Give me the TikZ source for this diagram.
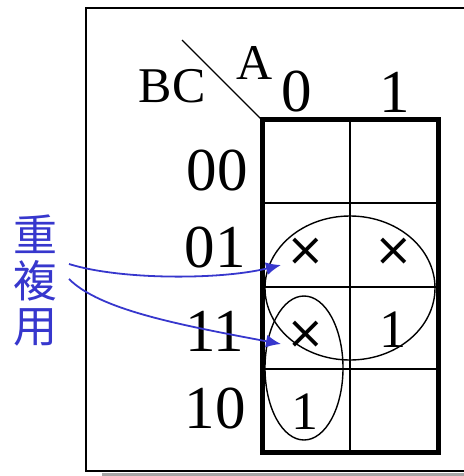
\documentclass[tikz,border=0pt]{standalone}
\usepackage{fontspec}
\setmainfont{Liberation Serif}
\newfontfamily\cjkfont{Noto Sans CJK TC}
\newfontfamily\symfont{DejaVu Sans}
\usetikzlibrary{arrows.meta}
\definecolor{noteblue}{RGB}{55,55,205}
\tikzset{
  big/.style={inner sep=0pt, font=\fontsize{61}{61}\selectfont},
  mid/.style={inner sep=0pt, font=\fontsize{50}{50}\selectfont},
  cell/.style={inner sep=0pt, font=\fontsize{54}{54}\selectfont},
  cross/.style={inner sep=0pt, font=\symfont\fontsize{46}{46}\selectfont},
  cjk/.style={inner sep=0pt, text=noteblue, font=\cjkfont\fontsize{44}{44}\selectfont},
  note/.style={noteblue, line width=1.8pt, -{Latex[length=15pt,width=13pt]}},
  grp/.style={line width=1.4pt},
  thin/.style={line width=2pt},
}
\begin{document}
\begin{tikzpicture}[x=1pt,y=-1pt]
\useasboundingbox (0,0) rectangle (463,476);
% outer frame and shadow
\draw[gray!70, line width=3pt] (102,474.5) -- (480,474.5);
\draw[line width=2pt] (480,8) -- (86,8) -- (86,471) -- (480,471);
% grid
\draw[thin] (350,120) -- (350,452);
\draw[thin] (262,203) -- (438,203);
\draw[thin] (262,287) -- (438,287);
\draw[thin] (262,369) -- (438,369);
\draw[line width=5pt] (262,120) rectangle (438,452);
% diagonal
\draw[line width=1.2pt] (182,40) -- (261,119);
% headers
\node[mid] (bc) at (172,86) {BC};
\node[mid] (a) at (255,63) {A};
\node[big] (c0) at (297,92) {0};
\node[big] (c1) at (395,92) {1};
\node[big] (r00) at (217,171) {00};
\node[big] (r01) at (215,248) {01};
\node[big] (r11) at (215,331) {11};
\node[big] (r10) at (215,409) {10};
% cells
\node[cross] (x1) at (306,252) {×};
\node[cross] (x2) at (394,252) {×};
\node[cross] (x3) at (306,335) {×};
\node[cell] (o1) at (393,330) {1};
\node[cell] (o2) at (305,412) {1};
% groups
\draw[grp] (350,288) ellipse [x radius=85pt, y radius=72pt];
\draw[grp] (304,368) ellipse [x radius=39pt, y radius=72pt];
% note
\node[cjk] (n1) at (35,234) {重};
\node[cjk] (n2) at (35,281) {複};
\node[cjk] (n3) at (35,327) {用};
\coordinate (s1) at (69,264);
\coordinate (s2) at (69,279);
\coordinate (t1) at (281,265);
\coordinate (t2) at (281,344);
\draw[note] (s1) .. controls (120,280) and (220,280) .. (t1);
\draw[note] (s2) .. controls (100,310) and (180,325) .. (t2);
\end{tikzpicture}
\end{document}
